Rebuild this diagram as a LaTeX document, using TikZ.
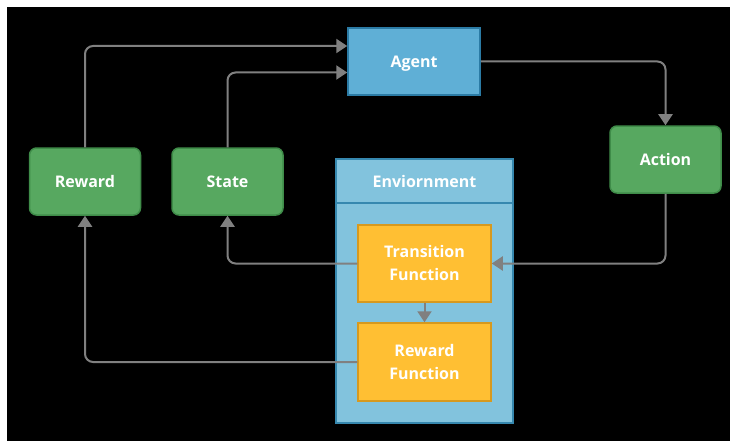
\documentclass[tikz,border=0pt]{standalone}
\usepackage{fontspec}
\setmainfont{Open Sans}
\usetikzlibrary{arrows.meta,calc}

\definecolor{linegray}{HTML}{808080}
\definecolor{greenfill}{HTML}{57A860}
\definecolor{greenline}{HTML}{3F8C49}
\definecolor{agentfill}{HTML}{5FAFD6}
\definecolor{agentline}{HTML}{2B7BA5}
\definecolor{envfill}{HTML}{82C3DD}
\definecolor{envline}{HTML}{3688AF}
\definecolor{fnfill}{HTML}{FFBF33}
\definecolor{fnline}{HTML}{D6991F}

\tikzset{
  % text boxes are sized to the capitals so labels sit optically centred
  label text/.style={text=white, font=\fontsize{16}{23.3}\selectfont\bfseries, align=center,
    text height=11.4pt, text depth=0pt},
  two lines/.style={text height=34.7pt, text depth=0pt},
  greenbox/.style={label text, draw=greenline, fill=greenfill, line width=1.5pt,
    rounded corners=7pt, minimum width=111pt, minimum height=67pt, inner sep=0pt},
  agentbox/.style={label text, draw=agentline, fill=agentfill, line width=1.5pt,
    minimum width=132pt, minimum height=67pt, inner sep=0pt},
  fnbox/.style={label text, two lines, draw=fnline, fill=fnfill, line width=1.5pt,
    minimum width=133pt, minimum height=77pt, inner sep=0pt},
  conn/.style={draw=linegray, line width=2pt, rounded corners=8pt,
    -{Triangle[length=11pt,width=14pt]}},
}

\begin{document}
\begin{tikzpicture}[x=1pt,y=-1pt]
  % canvas
  \fill[white] (0,0) rectangle (730,441);
  \fill[black] (7,7) rectangle (730,441);
  \useasboundingbox (0,0) rectangle (730,441);

  % environment container with header
  \filldraw[fill=envfill, draw=envline, line width=1.5pt] (336,159) rectangle (513,423);
  \draw[envline, line width=1.5pt] (336,203) -- (513,203);
  \node[label text] (envlabel) at (424.5,181.5) {Enviornment};

  % boxes
  \node[agentbox] (agent) at (414,61.5) {Agent};
  \node[greenbox] (reward) at (85,181.5) {Reward};
  \node[greenbox] (state) at (227.5,181.5) {State};
  \node[greenbox] (action) at (665.5,159.5) {Action};
  \node[fnbox] (trans) at (424.5,263.5) {Transition\\Function};
  \node[fnbox, minimum height=78pt] (rewfn) at (424.5,362) {Reward\\Function};

  % connectors
  \draw[conn] (reward.north) |- (agent.west |- 0,46);
  \draw[conn] (state.north) |- (agent.west |- 0,72.5);
  \draw[conn] (agent.east) -| (action.north);
  \draw[conn] (action.south) |- (trans.east);
  \draw[conn] (trans.west) -| (state.south);
  \draw[conn] (rewfn.west) -| (reward.south);
  \draw[conn] (trans.south) -- (rewfn.north);
\end{tikzpicture}
\end{document}
